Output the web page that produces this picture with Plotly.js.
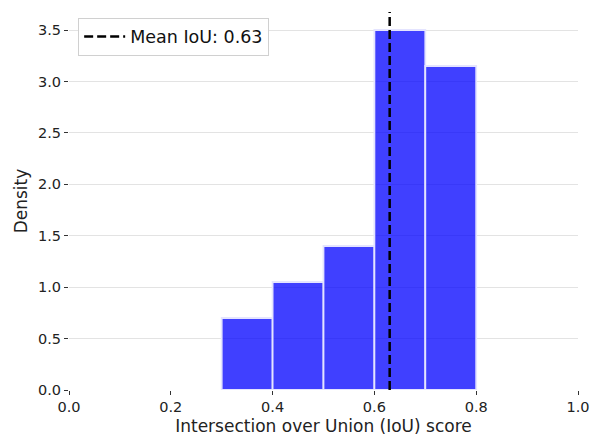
<!DOCTYPE html>
<html><head><meta charset="utf-8">
<script src="https://cdn.plot.ly/plotly-3.0.1.min.js"></script>
<style>body{margin:0;background:#fff}#c{width:592px;height:438px}</style>
</head><body><div id="c"></div>
<script>
const binStarts = [0.3, 0.4, 0.5, 0.6, 0.7];
const binWidth = 0.1;
const density = [0.7, 1.05, 1.4, 3.5, 3.15];
const meanIoU = 0.63;
const xTicks = [0.0, 0.2, 0.4, 0.6, 0.8, 1.0];
const yTicks = [0.0, 0.5, 1.0, 1.5, 2.0, 2.5, 3.0, 3.5];
const yMax = 3.675;

const traces = [
  {type:'bar', x: binStarts, y: density, width: binStarts.map(()=>binWidth), offset: 0,
   marker:{color:'rgba(0,0,255,0.75)', line:{color:'rgba(228,228,255,1)', width:1.8}},
   showlegend:false, hoverinfo:'skip'},
  {type:'scatter', mode:'lines', x:[meanIoU, meanIoU], y:[0, yMax],
   line:{color:'#000', width:2.5, dash:'9px,4px'}, name:'Mean IoU: ' + meanIoU.toFixed(2)}
];
const layout = {
  width:592, height:438, margin:{l:69, r:14, t:12, b:48},
  paper_bgcolor:'#fff', plot_bgcolor:'#fff',
  font:{family:'DejaVu Sans', size:14.5, color:'#222'},
  bargap:0,
  xaxis:{range:[0,1], tickvals:xTicks, ticktext:xTicks.map(v=>v.toFixed(1)),
    showgrid:false, zeroline:false, showline:false, ticks:'outside', ticklen:4, tickwidth:1, tickcolor:'#333',
    title:{text:'Intersection over Union (IoU) score', font:{size:17, color:'#222'}, standoff:5}},
  yaxis:{range:[0,yMax], tickvals:yTicks, ticktext:yTicks.map(v=>v.toFixed(1)),
    showgrid:true, gridcolor:'#e3e3e3', gridwidth:1, zeroline:false, showline:false,
    ticks:'outside', ticklen:4, tickwidth:1, tickcolor:'#333',
    title:{text:'Density', font:{size:17, color:'#222'}, standoff:6}},
  legend:{x:0.018, y:0.985, xanchor:'left', yanchor:'top', bgcolor:'rgba(255,255,255,0.9)',
    bordercolor:'#d0d0d0', borderwidth:1, itemwidth:41, font:{size:17.5, color:'#111'}}
};
Plotly.newPlot('c', traces, layout, {displayModeBar:false, staticPlot:true});
</script></body></html>
